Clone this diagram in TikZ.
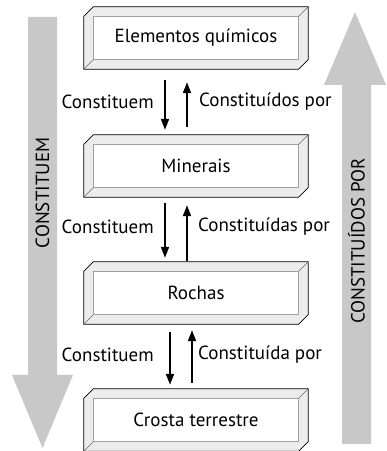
\documentclass[tikz,border=0pt]{standalone}
\usepackage{fontspec}
\setmainfont{PT Sans}
\usetikzlibrary{arrows.meta}
\definecolor{biggray}{RGB}{200,200,200}
\definecolor{bevelgray}{RGB}{236,236,236}
\definecolor{innergray}{RGB}{160,160,160}
\newcommand\bevelbox[1]{%
  \fill[bevelgray,draw=black,line width=0.8pt]
    ([yshift=-9.5pt]#1.north west) -- ([xshift=9.5pt]#1.north west) -- (#1.north east)
    -- ([yshift=9.5pt]#1.south east) -- ([xshift=-9.5pt]#1.south east) -- (#1.south west) -- cycle;
  \draw[innergray,fill=white,line width=0.6pt] ([shift={(9.5pt,-9.5pt)}]#1.north west) rectangle ([shift={(-9.5pt,9.5pt)}]#1.south east);
  \draw[black!60,line width=0.6pt] ([shift={(-9.5pt,-9.5pt)}]#1.north east) -- (#1.north east);
  \draw[black!60,line width=0.6pt] ([shift={(9.5pt,9.5pt)}]#1.south west) -- (#1.south west);
}
\begin{document}
\begin{tikzpicture}[x=1pt,y=1pt,
  txt/.style={font=\fontsize{19}{22}\selectfont, inner sep=0pt},
  boxshape/.style={minimum width=224pt, minimum height=62pt, inner sep=0pt},
  link/.style={line width=1.8pt, -{Triangle[length=11pt,width=8pt]}},
  bigarrow/.style={fill=biggray, draw=none}]
\useasboundingbox[fill=white] (0,0) rectangle (387,451);
% big arrows
\fill[bigarrow] (28,434) -- (57,434) -- (57,76) -- (73,76) -- (42.5,3) -- (12,76) -- (28,76) -- cycle;
\fill[bigarrow] (342,7) -- (371,7) -- (371,366) -- (386,366) -- (355,439) -- (324,366) -- (342,366) -- cycle;
\node[txt, rotate=90] (lefttxt) at (42.5,258) {CONSTITUEM};
\node[txt, rotate=90] (righttxt) at (356.5,210) {CONSTITUÍDOS POR};
% boxes
\node[boxshape] (b1) at (196,413) {};
\node[boxshape] (b2) at (196,285) {};
\node[boxshape] (b3) at (196,158) {};
\node[boxshape] (b4) at (196,31) {};
\bevelbox{b1}\bevelbox{b2}\bevelbox{b3}\bevelbox{b4}
\node[txt] (t1) at (b1.center) {Elementos químicos};
\node[txt] (t2) at (b2.center) {Minerais};
\node[txt] (t3) at (b3.center) {Rochas};
\node[txt] (t4) at (b4.center) {Crosta terrestre};
% connectors
\draw[link, shorten <=11pt, shorten >=5pt] ([xshift=-31pt]b1.south) -- ([xshift=-31pt]b2.north);
\draw[link, shorten <=8pt, shorten >=13pt] ([xshift=-9pt]b2.north) -- ([xshift=-9pt]b1.south);
\draw[link, shorten <=6pt, shorten >=4pt] ([xshift=-31pt]b2.south) -- ([xshift=-31pt]b3.north);
\draw[link, shorten <=1pt, shorten >=8pt] ([xshift=-9pt]b3.north) -- ([xshift=-9pt]b2.south);
\draw[link, shorten <=8pt, shorten >=4pt] ([xshift=-26pt]b3.south) -- ([xshift=-26pt]b4.north);
\draw[link, shorten <=6pt, shorten >=6pt] ([xshift=-4pt]b4.north) -- ([xshift=-4pt]b3.south);
% labels
\node[txt, anchor=east] (l1) at (154,349) {Constituem};
\node[txt, anchor=west] (r1) at (199,349) {Constituídos por};
\node[txt, anchor=east] (l2) at (154,224) {Constituem};
\node[txt, anchor=west] (r2) at (198,224) {Constituídas por};
\node[txt, anchor=east] (l3) at (154,96) {Constituem};
\node[txt, anchor=west] (r3) at (198,96) {Constituída por};
\end{tikzpicture}
\end{document}
